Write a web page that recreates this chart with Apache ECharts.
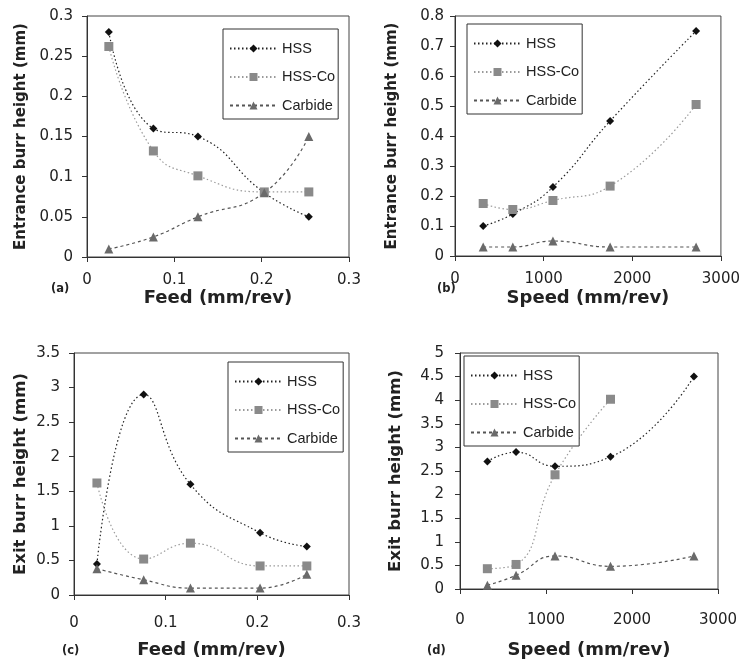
<!DOCTYPE html>
<html><head><meta charset="utf-8">
<script src="https://cdn.jsdelivr.net/npm/echarts@6/dist/echarts.min.js"></script>
<style>html,body{margin:0;padding:0;background:#fff}#c{width:743px;height:665px}</style>
</head><body><div id="c"></div>
<script>
// ---- data ----
const seriesNames = ['HSS', 'HSS-Co', 'Carbide'];
const feed = [0.025, 0.076, 0.127, 0.203, 0.254];
const speed = [318, 652, 1105, 1750, 2720];
// (a) entrance burr vs feed
const entFeedHSS = [0.28, 0.16, 0.15, 0.08, 0.05];
const entFeedHSSCo = [0.262, 0.132, 0.101, 0.081, 0.081];
const entFeedCarbide = [0.01, 0.025, 0.05, 0.08, 0.15];
// (b) entrance burr vs speed
const entSpeedHSS = [0.1, 0.14, 0.23, 0.45, 0.75];
const entSpeedHSSCo = [0.175, 0.155, 0.185, 0.233, 0.505];
const entSpeedCarbide = [0.03, 0.03, 0.05, 0.03, 0.03];
// (c) exit burr vs feed
const exitFeedHSS = [0.45, 2.9, 1.6, 0.9, 0.7];
const exitFeedHSSCo = [1.62, 0.52, 0.75, 0.42, 0.42];
const exitFeedCarbide = [0.38, 0.22, 0.1, 0.1, 0.3];
// (d) exit burr vs speed
const exitSpeedHSS = [2.7, 2.9, 2.6, 2.8, 4.5];
const exitSpeedHSSCo = [0.43, 0.52, 2.42, 4.02];
const exitSpeedCarbide = [0.08, 0.29, 0.7, 0.48, 0.7];
// axis ticks
const feedTicks = {min: 0, max: 0.3, interval: 0.1};
const speedTicks = {min: 0, max: 3000, interval: 1000};
const yTicksA = {min: 0, max: 0.3, interval: 0.05};
const yTicksB = {min: 0, max: 0.8, interval: 0.1};
const yTicksC = {min: 0, max: 3.5, interval: 0.5};
const yTicksD = {min: 0, max: 5, interval: 0.5};
const panelLabels = ['(a)', '(b)', '(c)', '(d)'];
const xTitles = ['Feed (mm/rev)', 'Speed (mm/rev)', 'Feed (mm/rev)', 'Speed (mm/rev)'];
const yTitles = ['Entrance burr height (mm)', 'Entrance burr height (mm)', 'Exit burr height (mm)', 'Exit burr height (mm)'];

// ---- build ----
const pairs = (xs, ys) => ys.map((y, i) => [xs[i], y]);
const styles = {
  'HSS': {symbol: 'diamond', symbolSize: 8, itemStyle: {color: '#111'}, lineStyle: {color: '#222', width: 1.2, type: [1.5, 2.5]}},
  'HSS-Co': {symbol: 'rect', symbolSize: 9, itemStyle: {color: '#8a8a8a'}, lineStyle: {color: '#9a9a9a', width: 1.2, type: [1.5, 2.5]}},
  'Carbide': {symbol: 'triangle', symbolSize: 9, itemStyle: {color: '#6a6a6a'}, lineStyle: {color: '#555', width: 1.2, type: [3, 3]}}
};
const panels = [
  {grid: {left: 87, top: 16, width: 262, height: 241}, x: feedTicks, y: yTicksA, xs: feed,
   data: [entFeedHSS, entFeedHSSCo, entFeedCarbide], ylm: 14, xlm: 16, xgap: 32, ygap: 58, yfs: 15,
   legend: {left: 223, top: 29}, lab: [60, 291]},
  {grid: {left: 455, top: 16, width: 266, height: 240}, x: speedTicks, y: yTicksB, xs: speed,
   data: [entSpeedHSS, entSpeedHSSCo, entSpeedCarbide], ylm: 11, xlm: 16, xgap: 33, ygap: 55, yfs: 15,
   legend: {left: 467, top: 24}, lab: [446, 291]},
  {grid: {left: 74, top: 353, width: 275, height: 242}, x: feedTicks, y: yTicksC, xs: feed,
   data: [exitFeedHSS, exitFeedHSSCo, exitFeedCarbide], ylm: 14, xlm: 21, xgap: 46, ygap: 45, yfs: 16.5,
   legend: {left: 228, top: 362}, lab: [71, 653]},
  {grid: {left: 460, top: 353, width: 258, height: 236}, x: speedTicks, y: yTicksD, xs: speed,
   data: [exitSpeedHSS, exitSpeedHSSCo, exitSpeedCarbide], ylm: 16, xlm: 24, xgap: 52, ygap: 56, yfs: 16.5,
   legend: {left: 464, top: 356}, lab: [436, 653]}
];
const axisLine = {show: true, onZero: false, lineStyle: {color: '#333', width: 1}};
const axisTick = {show: true, inside: false, length: 5, lineStyle: {color: '#333'}};
const tickFont = {fontFamily: 'DejaVu Sans', fontSize: 15, color: '#222'};
const fmt = v => String(+v.toFixed(2));

const option = {backgroundColor: '#fff', animation: false, grid: [], xAxis: [], yAxis: [], series: [], legend: [], graphic: []};
panels.forEach((p, i) => {
  option.grid.push(Object.assign({show: true, borderColor: '#444', borderWidth: 1, backgroundColor: 'transparent'}, p.grid));
  option.xAxis.push(Object.assign({type: 'value', gridIndex: i, axisLine, axisTick, splitLine: {show: false},
    axisLabel: Object.assign({margin: p.xlm, formatter: fmt}, tickFont),
    name: xTitles[i], nameLocation: 'middle', nameGap: p.xgap,
    nameTextStyle: {fontFamily: 'DejaVu Sans', fontWeight: 'bold', fontSize: 18, color: '#222', verticalAlign: 'top'}}, p.x));
  option.yAxis.push(Object.assign({type: 'value', gridIndex: i, axisLine, axisTick, splitLine: {show: false},
    axisLabel: Object.assign({margin: p.ylm, formatter: fmt}, tickFont),
    name: yTitles[i], nameLocation: 'middle', nameGap: p.ygap,
    nameTextStyle: {fontFamily: 'DejaVu Sans', fontWeight: 'bold', fontSize: p.yfs, color: '#222'}}, p.y));
  seriesNames.forEach((n, k) => {
    option.series.push(Object.assign({type: 'line', name: n, xAxisIndex: i, yAxisIndex: i, smooth: 0.5,
      data: pairs(p.xs, p.data[k]), showSymbol: true}, JSON.parse(JSON.stringify(styles[n]))));
  });
  option.legend.push({data: seriesNames, orient: 'vertical', left: p.legend.left, top: p.legend.top,
    padding: [12, 3, 6, 6], itemWidth: 47, itemHeight: 10, itemGap: 13.5,
    backgroundColor: '#fff', borderColor: '#333', borderWidth: 1, selectedMode: false,
    textStyle: {fontFamily: 'Liberation Sans', fontSize: 14.5, color: '#222', padding: [0, 0, 0, 0]}});
  option.graphic.push({type: 'text', left: p.lab[0] - 9, top: p.lab[1] - 8,
    style: {text: panelLabels[i], fontFamily: 'DejaVu Sans', fontWeight: 'bold', fontSize: 11.5, fill: '#222'}});
});
const chart = echarts.init(document.getElementById('c'), null, {renderer: 'canvas'});
chart.setOption(option);
</script></body></html>
